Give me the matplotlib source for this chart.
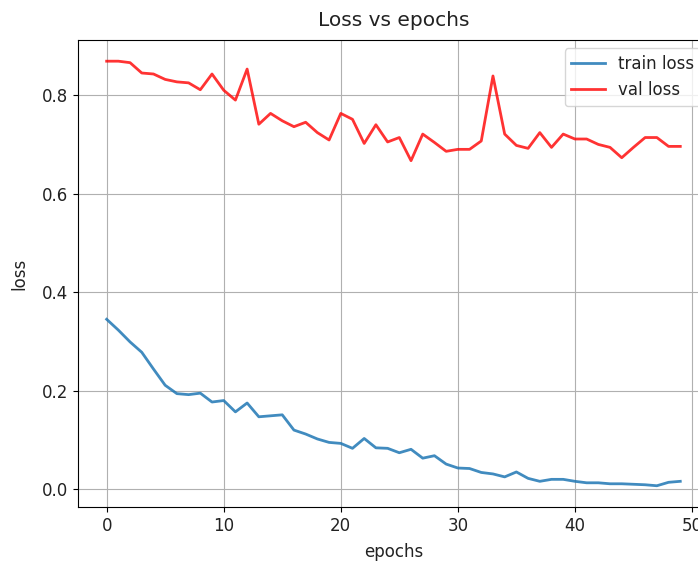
import matplotlib
matplotlib.use("Agg")
import matplotlib.pyplot as plt
import numpy as np

# loss per epoch, 50 epochs
epochs = np.arange(50)
train_loss = [0.345, 0.323, 0.299, 0.278, 0.244, 0.211, 0.194, 0.192, 0.195, 0.177,
              0.180, 0.157, 0.175, 0.147, 0.149, 0.151, 0.120, 0.112, 0.102, 0.095,
              0.093, 0.083, 0.103, 0.084, 0.083, 0.074, 0.081, 0.063, 0.068, 0.051,
              0.043, 0.042, 0.034, 0.031, 0.025, 0.035, 0.022, 0.016, 0.020, 0.020,
              0.016, 0.013, 0.013, 0.011, 0.011, 0.010, 0.009, 0.007, 0.014, 0.016]
val_loss = [0.869, 0.869, 0.866, 0.845, 0.843, 0.832, 0.827, 0.825, 0.811, 0.843,
            0.810, 0.790, 0.853, 0.741, 0.763, 0.748, 0.736, 0.745, 0.724, 0.709,
            0.763, 0.751, 0.702, 0.740, 0.705, 0.714, 0.667, 0.721, 0.704, 0.686,
            0.690, 0.690, 0.707, 0.839, 0.721, 0.698, 0.692, 0.724, 0.694, 0.721,
            0.711, 0.711, 0.700, 0.694, 0.673, 0.694, 0.714, 0.714, 0.696, 0.696]

fig = plt.figure(figsize=(6.98, 5.62), dpi=100)
ax = fig.add_axes([0.1117, 0.0979, 0.904, 0.831])

ax.plot(epochs, train_loss, label='train loss', linewidth=2, alpha=0.85)
ax.plot(epochs, val_loss, color='red', label='val loss', linewidth=2, alpha=0.8)

ax.set_title('Loss vs epochs', fontsize=14.5, pad=10, color='#222222')
ax.set_xlabel('epochs', fontsize=12, labelpad=6, color='#222222')
ax.set_ylabel('loss', fontsize=12, labelpad=10, color='#222222')
ax.tick_params(labelsize=12, labelcolor='#222222')
ax.grid(True)
ax.legend(fontsize=12, borderpad=0.4, labelcolor='#222222')

fig.savefig('out.png', dpi=100)
